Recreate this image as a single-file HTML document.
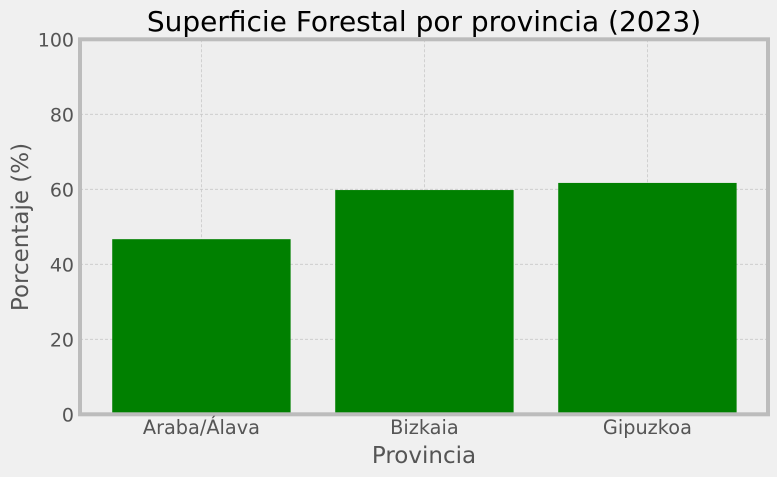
<!DOCTYPE html>
<html><head><meta charset="utf-8"><style>
body{margin:0;background:#f0f0f0;}
svg{display:block;font-family:"DejaVu Sans","Liberation Sans",sans-serif;}
</style></head><body>
<svg id="chart" width="777" height="477">
<rect width="777" height="477" fill="#f0f0f0"/>
<rect x="80" y="39.3" width="688" height="375" fill="#eeeeee"/>
<g id="grid"></g>
<g id="bars"></g>
<rect x="80" y="39.3" width="688" height="375" fill="none" stroke="#bcbcbc" stroke-width="4"/>
<g id="ticks"></g>
<text x="424" y="31" text-anchor="middle" font-size="28" fill="#000">Superficie Forestal por provincia (2023)</text>
<text x="424" y="463" text-anchor="middle" font-size="23" fill="#555">Provincia</text>
<text transform="translate(28,227) rotate(-90)" text-anchor="middle" font-size="23" fill="#555">Porcentaje (%)</text>
</svg>
<script>
const categories = ["Araba/Álava", "Bizkaia", "Gipuzkoa"];
const values = [46.7, 59.8, 61.7];
const yTicks = [0, 20, 40, 60, 80, 100];
const NS = "http://www.w3.org/2000/svg";
const xs = i => 81 + (i + 0.54) * 223;
const ys = v => 414.3 - v * 3.75;
function mk(tag, attrs, parent, txt){const e=document.createElementNS(NS,tag);for(const k in attrs)e.setAttribute(k,attrs[k]);if(txt!==undefined)e.textContent=txt;document.getElementById(parent).appendChild(e);return e;}
yTicks.forEach(t=>{
  const g=mk("line",{x1:80,x2:768,y1:ys(t),y2:ys(t),stroke:"#c8c8c8","stroke-width":0.8,"stroke-dasharray":"3,2"},"grid");
  
  
  const l=mk("text",{x:74,y:ys(t)+7,"text-anchor":"end","font-size":19,fill:"#555"},"ticks",String(t));
  
  
});
categories.forEach((c,i)=>{
  const g=mk("line",{x1:xs(i),x2:xs(i),y1:39.3,y2:414.3,stroke:"#c8c8c8","stroke-width":0.8,"stroke-dasharray":"3,2"},"grid");
  
  
  const b=mk("rect",{x:xs(i-0.4),y:ys(values[i]),width:223*0.8,height:ys(0)-ys(values[i]),fill:"#008000"},"bars");
  
  
  const l=mk("text",{x:xs(i),y:434,"text-anchor":"middle","font-size":19.3,fill:"#555"},"ticks",c);
  
  
});
</script>
</body></html>
